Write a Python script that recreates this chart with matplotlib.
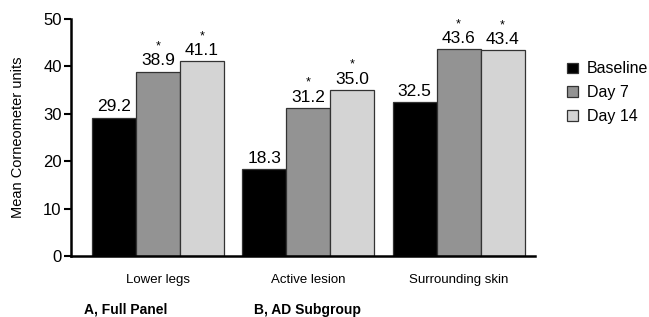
import numpy as np
import matplotlib
matplotlib.use('Agg')
from matplotlib import pyplot as plt

plt.rcParams['font.family'] = ['Liberation Sans', 'DejaVu Sans']

# data
sites = ['Lower legs', 'Active lesion', 'Surrounding skin']
series = ['Baseline', 'Day 7', 'Day 14']
baseline = [29.2, 18.3, 32.5]
day7 = [38.9, 31.2, 43.6]
day14 = [41.1, 35.0, 43.4]
signif = [[False, False, False], [True, True, True], [True, True, True]]
panels = ['A, Full Panel', 'B, AD Subgroup']

colors = ['#000000', '#939393', '#d4d4d4']

fig = plt.figure(figsize=(6.49, 3.17), dpi=100)
ax = fig.add_axes([0.110, 0.192, 0.714, 0.748])

x = np.arange(len(sites))
w = 0.293
for i, (vals, c, name) in enumerate(zip([baseline, day7, day14], colors, series)):
    pos = x + (i - 1) * w
    ax.bar(pos, vals, w, color=c, edgecolor='#333333', linewidth=0.9, label=name)
    for p, v, s in zip(pos, vals, signif[i]):
        ax.text(p, v + 1.3, f'{v:.1f}', ha='center', va='baseline', fontsize=12.5)
        if s:
            ax.text(p, v + 4.7, '*', ha='center', va='baseline', fontsize=9)

ax.set_xlim(-0.576, 2.507)
ax.set_ylim(0, 50)
ax.set_yticks(range(0, 51, 10))
ax.set_xticks(x)
ax.set_xticklabels(sites, fontsize=9.5)
ax.tick_params(axis='x', length=0, pad=13)
ax.tick_params(axis='y', length=5, width=1.5, labelsize=12, pad=2)
ax.set_ylabel('Mean Corneometer units', fontsize=10.5)
ax.yaxis.set_label_coords(-0.100, 0.5)
for s in ['top', 'right']:
    ax.spines[s].set_visible(False)
for s in ['left', 'bottom']:
    ax.spines[s].set_linewidth(1.8)

fig.text(126 / 649, 1 - 310 / 317, panels[0], ha='center', va='center',
         fontsize=10, fontweight='bold')
fig.text(307 / 649, 1 - 310 / 317, panels[1], ha='center', va='center',
         fontsize=10, fontweight='bold')

fig.legend(loc='upper left', bbox_to_anchor=(0.874, 0.806), frameon=False,
           fontsize=11.5, handlelength=0.65, handleheight=0.65,
           handletextpad=0.6, labelspacing=0.55, borderaxespad=0,
           borderpad=0)

fig.savefig('out.png', dpi=100)
